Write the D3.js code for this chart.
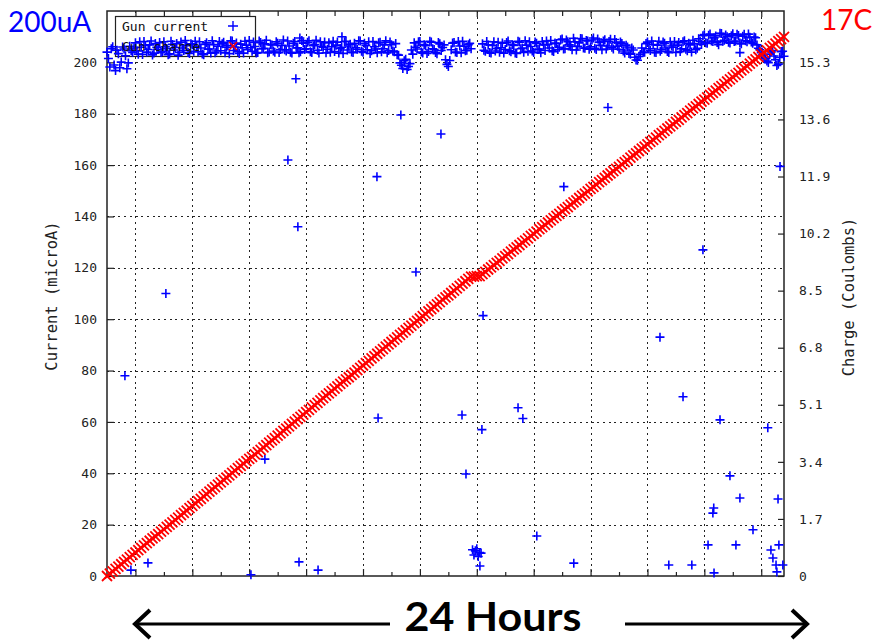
<!DOCTYPE html>
<html>
<head>
<meta charset="utf-8">
<script src="https://cdn.jsdelivr.net/npm/d3@7"></script>
<style>
  body { margin: 0; background: #fff; }
  svg { display: block; }
</style>
</head>
<body>
<svg id="chart" width="872" height="640"></svg>
<script>
// Gun current (microA), samples on the hour tenths (0.0, 0.1, ... h)
const currentSamples = [
  204.0, 198.2, 206.1, 196.8, 203.4, 200.1, 205.2, 197.5, 206.3, 203.9,
  207.6, 203.2, 205.9, 208.1, 204.0, 206.8, 202.9, 207.3, 205.1, 203.8,
  208.0, 205.4, 203.3, 207.0, 205.8, 202.8, 207.9, 204.6, 206.5, 203.5,
  206.9, 208.2, 204.1, 205.6, 203.0, 207.6, 205.2, 208.4, 203.7, 206.3,
  204.5, 207.8, 205.9, 203.4, 208.3, 206.0, 204.2, 207.1, 203.6, 206.7,
  208.5, 204.3, 206.2, 203.8, 207.7, 205.5, 208.6, 204.0, 206.8, 203.9,
  207.4, 205.0, 208.7, 204.4, 206.4, 203.6, 208.1, 205.7, 204.1, 207.5,
  205.3, 208.4, 203.8, 206.9, 204.7, 208.0, 205.9, 203.7, 207.6, 206.1,
  204.2, 207.9, 205.4, 203.5, 208.2, 206.4, 204.0, 207.4, 205.1, 208.3,
  203.9, 206.6, 208.0, 204.5, 206.1, 203.7, 207.8, 205.3, 208.4, 204.6,
  206.9, 204.1, 203.0, 199.8, 197.6, 201.2, 198.4, 204.8, 207.6, 205.2,
  208.1, 203.6, 206.5, 204.2, 207.9, 205.0, 203.4, 207.2, 205.8, 201.0,
  198.4, 204.9, 207.7, 203.8, 206.4, 208.2, 204.5, 206.9, 205.3, 8.2,
  10.6, 9.1, 207.2, 204.3, 206.8, 203.6, 208.0, 205.4, 203.9, 207.5,
  205.0, 208.3, 204.1, 206.6, 203.5, 207.9, 205.6, 208.4, 204.3, 206.2,
  203.8, 207.4, 205.2, 208.1, 204.6, 206.9, 208.5, 204.2, 207.3, 205.9,
  209.1, 205.3, 208.0, 206.2, 209.4, 204.8, 207.6, 209.2, 205.5, 208.3,
  206.1, 209.5, 205.0, 207.9, 204.9, 208.8, 206.4, 209.0, 205.2, 207.7,
  205.1, 207.3, 203.6, 206.0, 203.2, 204.8, 200.9, 202.3, 205.6, 203.9,
  207.9, 204.6, 206.9, 203.8, 208.2, 205.0, 207.4, 204.2, 208.0, 205.9,
  203.9, 207.7, 205.3, 208.4, 204.5, 206.8, 208.6, 204.9, 209.2, 207.0,
  210.8, 207.4, 211.0, 208.1, 210.3, 206.9, 211.2, 208.6, 210.0, 207.5,
  211.1, 208.3, 210.5, 207.2, 210.9, 208.0, 209.8, 207.4, 209.6, 205.5,
  203.8, 201.6, 200.5, 203.2, 204.6, 201.0, 199.3, 204.2, 202.4
];

// Gun current (microA), the in-between samples (0.05, 0.15, ... h)
const currentSamplesMid = [
  201.5, 205.3, 199.0, 204.7, 197.9, 206.0, 202.6, 199.8, 204.5, 205.6,
  204.4, 208.0, 203.1, 206.6, 205.0, 208.3, 203.6, 205.9, 207.7, 204.2,
  206.1, 203.0, 208.2, 204.8, 207.3, 203.9, 205.6, 208.5, 203.8, 207.2,
  204.3, 206.2, 208.0, 203.3, 207.0, 205.1, 203.6, 206.9, 204.4, 208.1,
  207.2, 203.7, 206.5, 208.4, 204.6, 207.5, 203.5, 205.7, 208.2, 204.9,
  205.7, 207.9, 203.6, 208.3, 205.2, 207.2, 203.7, 206.9, 204.4, 208.0,
  203.8, 206.6, 204.9, 208.3, 203.9, 207.4, 205.6, 203.7, 208.5, 205.0,
  207.8, 204.1, 206.5, 208.6, 203.6, 206.2, 207.9, 205.1, 203.9, 208.2,
  206.7, 203.6, 205.9, 208.0, 204.8, 207.1, 203.8, 205.7, 208.4, 204.3,
  207.4, 204.9, 203.5, 208.1, 205.2, 207.6, 204.1, 206.8, 203.7, 207.9,
  204.4, 207.3, 202.8, 198.9, 200.6, 197.2, 199.5, 203.2, 205.9, 208.0,
  204.0, 206.9, 203.5, 208.2, 205.3, 203.8, 207.7, 204.6, 206.8, 199.2,
  200.7, 207.5, 204.0, 208.1, 203.7, 206.3, 204.7, 207.4, 10.2, 9.8,
  7.6, 8.9, 204.7, 208.1, 203.8, 206.6, 204.4, 207.8, 205.7, 203.6,
  207.7, 204.5, 206.9, 203.6, 208.2, 205.3, 203.9, 206.7, 208.0, 204.4,
  207.9, 205.0, 203.7, 206.8, 208.3, 205.6, 204.5, 207.5, 205.0, 208.8,
  205.2, 208.7, 206.8, 204.9, 208.0, 206.3, 209.3, 205.6, 208.5, 205.1,
  208.7, 205.5, 209.1, 206.6, 208.3, 205.2, 208.1, 205.9, 208.9, 206.3,
  207.9, 204.4, 206.7, 203.5, 205.6, 202.0, 200.8, 203.1, 203.9, 207.3,
  205.3, 208.3, 203.9, 206.7, 204.3, 207.9, 205.6, 203.8, 206.4, 208.1,
  206.7, 204.2, 208.0, 205.1, 207.4, 204.0, 207.2, 205.5, 208.1, 210.4,
  207.6, 210.6, 208.3, 209.6, 207.7, 211.3, 208.2, 210.7, 207.8, 210.4,
  208.1, 210.9, 207.5, 210.2, 208.4, 211.0, 207.9, 209.9, 206.8, 204.9,
  202.9, 201.4, 199.9, 204.1, 202.5, 198.8, 201.9, 204.3
];

// Accumulated gun charge (Coulombs), on the hour tenths
const chargeSamples = [
  0.00, 0.07, 0.14, 0.21, 0.28, 0.35, 0.42, 0.49, 0.56, 0.63,
  0.70, 0.77, 0.84, 0.91, 0.98, 1.05, 1.12, 1.18, 1.25, 1.32,
  1.39, 1.46, 1.53, 1.60, 1.67, 1.74, 1.81, 1.88, 1.95, 2.02,
  2.09, 2.16, 2.23, 2.30, 2.37, 2.44, 2.51, 2.58, 2.65, 2.72,
  2.79, 2.86, 2.93, 3.00, 3.07, 3.14, 3.21, 3.28, 3.35, 3.42,
  3.49, 3.55, 3.62, 3.69, 3.76, 3.83, 3.90, 3.97, 4.04, 4.11,
  4.18, 4.25, 4.32, 4.39, 4.46, 4.53, 4.60, 4.67, 4.74, 4.81,
  4.88, 4.95, 5.02, 5.09, 5.16, 5.23, 5.30, 5.37, 5.44, 5.51,
  5.58, 5.65, 5.72, 5.79, 5.86, 5.92, 5.99, 6.06, 6.13, 6.20,
  6.27, 6.34, 6.41, 6.48, 6.55, 6.62, 6.69, 6.76, 6.83, 6.90,
  6.97, 7.04, 7.11, 7.18, 7.25, 7.32, 7.39, 7.46, 7.53, 7.60,
  7.67, 7.74, 7.81, 7.88, 7.95, 8.02, 8.09, 8.16, 8.23, 8.30,
  8.36, 8.43, 8.50, 8.57, 8.64, 8.71, 8.78, 8.85, 8.92, 8.92,
  8.93, 8.93, 8.99, 9.06, 9.13, 9.19, 9.26, 9.33, 9.39, 9.46,
  9.53, 9.59, 9.66, 9.73, 9.79, 9.86, 9.93, 9.99, 10.06, 10.13,
  10.19, 10.26, 10.33, 10.39, 10.46, 10.53, 10.59, 10.66, 10.73, 10.79,
  10.86, 10.93, 10.99, 11.06, 11.13, 11.19, 11.26, 11.33, 11.39, 11.46,
  11.53, 11.59, 11.66, 11.73, 11.79, 11.86, 11.93, 11.99, 12.06, 12.13,
  12.19, 12.26, 12.33, 12.39, 12.46, 12.53, 12.59, 12.66, 12.73, 12.79,
  12.86, 12.93, 12.99, 13.06, 13.13, 13.19, 13.26, 13.33, 13.39, 13.46,
  13.53, 13.59, 13.66, 13.73, 13.79, 13.86, 13.93, 13.99, 14.06, 14.13,
  14.19, 14.26, 14.33, 14.39, 14.46, 14.53, 14.59, 14.66, 14.73, 14.79,
  14.86, 14.93, 14.99, 15.06, 15.13, 15.19, 15.26, 15.33, 15.39, 15.46,
  15.53, 15.59, 15.66, 15.73, 15.79, 15.86, 15.93, 15.99, 16.06
];

const sampleStepHours = 0.1;
const midOffsetHours = 0.05;

// Isolated current readings (trips, dips, spikes)
const outlierHours = [
  0.63, 0.84, 1.44, 2.07, 5.06, 5.55, 6.36, 6.64, 6.71, 6.75,
  6.78, 7.42, 8.26, 9.49, 9.53, 10.33, 10.86, 11.74, 12.48, 12.62,
  13.11, 13.18, 13.22, 14.45, 14.62, 15.11, 16.06, 16.41, 17.61, 19.44,
  19.75, 20.25, 20.56, 20.95, 21.13, 21.30, 21.33, 21.34, 21.55, 21.90,
  22.11, 22.25, 22.25, 22.71, 23.23, 23.34, 23.41, 23.52, 23.55, 23.59,
  23.62, 23.66, 23.76
];
const outlierCurrent = [
  78.0, 2.3, 5.1, 110.0, 0.5, 45.5, 162.0, 193.6, 136.0, 5.5,
  209.5, 2.3, 210.0, 155.5, 61.5, 179.5, 118.4, 172.1, 62.7, 39.7,
  3.9, 57.0, 101.4, 65.5, 61.3, 15.6, 151.6, 5.0, 182.4, 93.0,
  4.3, 69.8, 4.3, 127.0, 12.1, 24.5, 26.5, 1.2, 60.8, 39.0,
  12.1, 30.4, 203.8, 18.0, 57.7, 10.1, 7.0, 4.3, 1.6, 30.0,
  12.1, 159.5, 4.3
];

const currentTicks = [0, 20, 40, 60, 80, 100, 120, 140, 160, 180, 200];
const chargeTicks = [0, 1.7, 3.4, 5.1, 6.8, 8.5, 10.2, 11.9, 13.6, 15.3];
const majorHourTicks = [1, 3, 5, 7, 9, 11, 13, 15, 17, 19, 21, 23];
const minorHourTicks = [2, 4, 6, 8, 10, 12, 14, 16, 18, 20, 22];
const seriesNames = ["Gun current", "Gun charge"];
const runHours = 23.8;
const currentMax = 220;
const coulombsPerMicroA = 15.3 / 200;

const BLUE = "#0000ff";
const RED = "#ff0000";
const MONO = "'DejaVu Sans Mono', monospace";

const svg = d3.select("#chart");
const plotLeft = 107, plotRight = 784, plotTop = 11, plotBottom = 576;

const x = d3.scaleLinear().domain([0, runHours]).range([plotLeft, plotRight]);
const y = d3.scaleLinear().domain([0, currentMax]).range([plotBottom, plotTop]);
const y2 = d3.scaleLinear().domain([0, currentMax * coulombsPerMicroA]).range([plotBottom, plotTop]);

// dotted grid
const grid = svg.append("g")
  .attr("stroke", "#222")
  .attr("stroke-width", 1.6)
  .attr("stroke-dasharray", "2,3.7")
  .attr("shape-rendering", "crispEdges");
grid.selectAll("line.h").data(currentTicks.filter(d => d > 0)).join("line")
  .attr("class", "h")
  .attr("x1", plotLeft).attr("x2", plotRight)
  .attr("y1", d => Math.round(y(d)) + 0.5).attr("y2", d => Math.round(y(d)) + 0.5);
grid.selectAll("line.v").data(majorHourTicks).join("line")
  .attr("class", "v")
  .attr("x1", d => Math.round(x(d)) + 0.5).attr("x2", d => Math.round(x(d)) + 0.5)
  .attr("y1", plotTop).attr("y2", plotBottom);

// axes: ticks point into the plot
function styleAxis(g) {
  g.select(".domain").remove();
  g.selectAll(".tick line").attr("stroke", "#222").attr("stroke-width", 1.2);
  g.selectAll(".tick text").attr("font-family", MONO).attr("font-size", 13).attr("fill", "#222");
}
svg.append("g").attr("transform", `translate(${plotLeft},0)`)
  .call(d3.axisLeft(y).tickValues(currentTicks).tickSize(-7).tickPadding(10))
  .call(styleAxis);
svg.append("g").attr("transform", `translate(${plotRight},0)`)
  .call(d3.axisRight(y2).tickValues(chargeTicks).tickSize(-6).tickPadding(15)
    .tickFormat(d => String(d)))
  .call(styleAxis);
svg.append("g").attr("transform", `translate(0,${plotBottom})`)
  .call(d3.axisBottom(x).tickValues(majorHourTicks).tickSize(-7).tickFormat(""))
  .call(styleAxis);
svg.append("g").attr("transform", `translate(0,${plotBottom})`)
  .call(d3.axisBottom(x).tickValues(minorHourTicks).tickSize(-4).tickFormat(""))
  .call(styleAxis);
svg.append("g").attr("transform", `translate(0,${plotTop})`)
  .call(d3.axisTop(x).tickValues(majorHourTicks).tickSize(-6).tickFormat(""))
  .call(styleAxis);
svg.append("g").attr("transform", `translate(0,${plotTop})`)
  .call(d3.axisTop(x).tickValues(minorHourTicks).tickSize(-5).tickFormat(""))
  .call(styleAxis);

// plot frame
svg.append("rect")
  .attr("x", plotLeft).attr("y", plotTop)
  .attr("width", plotRight - plotLeft).attr("height", plotBottom - plotTop)
  .attr("fill", "none").attr("stroke", "#222").attr("stroke-width", 1.5);

// key box (under the data)
svg.append("rect")
  .attr("x", 115.5).attr("y", 16.5).attr("width", 140).attr("height", 40)
  .attr("fill", "#fff").attr("stroke", "#222").attr("stroke-width", 1.2);

const plusPath = "M-4.5,0H4.5M0,-4.5V4.5";
const crossPath = "M-5,-5L5,5M-5,5L5,-5";

// current series: both sample sets plus isolated readings
const currentPoints = currentSamples.map((v, i) => ({ t: i * sampleStepHours, v }))
  .concat(currentSamplesMid.map((v, i) => ({ t: midOffsetHours + i * sampleStepHours, v })))
  .concat(outlierHours.map((t, i) => ({ t, v: outlierCurrent[i] })));
svg.append("g")
  .attr("fill", "none").attr("stroke", BLUE).attr("stroke-width", 1.6)
  .selectAll("path").data(currentPoints).join("path")
  .attr("d", plusPath)
  .attr("transform", d => `translate(${x(d.t)},${y(d.v)})`);

// charge series
const chargePoints = chargeSamples.map((v, i) => ({ t: i * sampleStepHours, v }));
svg.append("g")
  .attr("fill", "none").attr("stroke", RED).attr("stroke-width", 1.8)
  .selectAll("path").data(chargePoints).join("path")
  .attr("d", crossPath)
  .attr("transform", d => `translate(${x(d.t)},${y2(d.v)})`);

// key entries, drawn over the data
const key = svg.append("g");
key.append("text").attr("x", 122).attr("y", 31)
  .attr("font-family", MONO).attr("font-size", 13).attr("fill", "#111")
  .text(seriesNames[0]);
key.append("text").attr("x", 122).attr("y", 51)
  .attr("font-family", MONO).attr("font-size", 13).attr("fill", "#111")
  .text(seriesNames[1]);
key.append("path").attr("d", "M-5,0H5M0,-5V5").attr("transform", "translate(233,26)")
  .attr("stroke", BLUE).attr("stroke-width", 1.4).attr("fill", "none");
key.append("path").attr("d", "M-4,-4L4,4M-4,4L4,-4").attr("transform", "translate(233,46)")
  .attr("stroke", RED).attr("stroke-width", 1.4).attr("fill", "none");

// axis titles
svg.append("text")
  .attr("transform", "translate(57,296) rotate(-90)")
  .attr("text-anchor", "middle")
  .attr("font-family", MONO).attr("font-size", 15.5).attr("fill", "#222")
  .text("Current (microA)");
svg.append("text")
  .attr("transform", "translate(854,297) rotate(-90)")
  .attr("text-anchor", "middle")
  .attr("font-family", MONO).attr("font-size", 15.5).attr("fill", "#222")
  .text("Charge (Coulombs)");

// corner annotations
svg.append("text").attr("x", 8).attr("y", 32)
  .attr("font-family", "Lato, 'Open Sans', sans-serif").attr("font-size", 28)
  .attr("fill", BLUE).text("200uA");
svg.append("text").attr("x", 821).attr("y", 30)
  .attr("font-family", "Lato, 'Open Sans', sans-serif").attr("font-size", 28)
  .attr("fill", RED).text("17C");

// time-span arrow
const arrow = svg.append("g").attr("stroke", "#000").attr("fill", "none");
arrow.append("line").attr("x1", 136).attr("x2", 390).attr("y1", 624).attr("y2", 624).attr("stroke-width", 3);
arrow.append("line").attr("x1", 625).attr("x2", 805).attr("y1", 624).attr("y2", 624).attr("stroke-width", 3);
arrow.append("polyline").attr("points", "150,610 135,624 150,638").attr("stroke-width", 4);
arrow.append("polyline").attr("points", "792,610 807,624 792,638").attr("stroke-width", 4);
svg.append("text")
  .attr("transform", "translate(493,631) scale(1.05,1)")
  .attr("text-anchor", "middle")
  .attr("font-family", "Lato, 'Open Sans', sans-serif").attr("font-weight", 700)
  .attr("font-size", 41).attr("fill", "#000").text("24 Hours");
</script>
</body>
</html>
